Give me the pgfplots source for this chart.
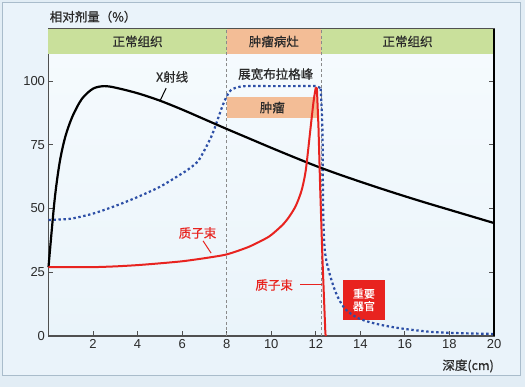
\documentclass[border=0pt]{standalone}
\usepackage{pgfplots}
\pgfplotsset{compat=1.18}
\usepackage{fontspec}
\setmainfont{Liberation Sans}
\newfontfamily\cjk[FakeBold=0.6]{Noto Sans CJK SC}
\definecolor{outerbg}{HTML}{E2EDF5}
\definecolor{innerbg}{HTML}{EAF3FA}
\definecolor{plottop}{HTML}{F6FBFE}
\definecolor{plotbot}{HTML}{EAF4FA}
\definecolor{bordercol}{HTML}{A9BCCB}
\definecolor{bandgreen}{HTML}{C9E09B}
\definecolor{bandorange}{HTML}{F3BD96}
\definecolor{redc}{HTML}{E8231F}
\definecolor{bluec}{HTML}{2D4FA6}
\definecolor{axisgray}{HTML}{505050}
\definecolor{textgray}{HTML}{2A2A2A}
\definecolor{dashgray}{HTML}{8A8A8A}
\begin{document}
\begin{tikzpicture}
\useasboundingbox (-48.5pt,-51pt) rectangle (476.5pt,336pt);
\fill[outerbg] (-48.5pt,-51pt) rectangle (476.5pt,336pt);
\fill[innerbg,draw=bordercol,line width=1pt] (-45.5pt,-40pt) rectangle (471.5pt,333pt);
\begin{axis}[
  at={(0,0)}, anchor=south west, scale only axis,
  width=445.5pt, height=307pt,
  xmin=0, xmax=20, ymin=0, ymax=120.4,
  axis background/.style={top color=plottop, bottom color=plotbot},
  xtick={2,4,...,20}, ytick={0,25,50,75,100},
  tick align=inside, major tick length=5pt,
  tick style={axisgray, line width=1pt},
  axis line style={axisgray, line width=1.6pt},
  ticklabel style={font=\fontsize{13}{13}\selectfont, text=textgray},
  /pgf/number format/assume math mode=true,
  clip=false,
]
% header bands
\fill[bandgreen] (axis cs:0,110.6) rectangle (axis cs:8,120.4);
\fill[bandorange] (axis cs:8,110.6) rectangle (axis cs:12.25,120.4);
\fill[bandgreen] (axis cs:12.25,110.6) rectangle (axis cs:20,120.4);
\node[font=\cjk\fontsize{12.5}{13}\selectfont, text=textgray] at (axis cs:4,115.5) {正常组织};
\node[font=\cjk\fontsize{12.5}{13}\selectfont, text=textgray] at (axis cs:10.12,115.5) {肿瘤病灶};
\node[font=\cjk\fontsize{12.5}{13}\selectfont, text=textgray] at (axis cs:16.12,115.5) {正常组织};
% dashed lines
\draw[dashgray, line width=0.8pt, dash pattern=on 3pt off 2.5pt] (axis cs:8,0) -- (axis cs:8,120.4);
\draw[dashgray, line width=0.8pt, dash pattern=on 3pt off 2.5pt] (axis cs:12.25,0) -- (axis cs:12.25,120.4);
% tumour box
\fill[bandorange] (axis cs:8,85.5) rectangle (axis cs:12.05,93.7);
\node[font=\cjk\fontsize{12.5}{13}\selectfont, text=textgray] at (axis cs:10.05,89.6) {肿瘤};
% organ box
\fill[redc] (axis cs:13.22,6.3) rectangle (axis cs:15.1,22);
\node[font=\cjk\fontsize{11}{12.5}\selectfont, text=white, align=center] at (axis cs:14.16,14.15) {重要\\器官};
% labels
\node[font=\cjk\fontsize{12.5}{13}\selectfont, text=textgray] at (axis cs:10.2,102.7) {展宽布拉格峰};
\node[font=\cjk\fontsize{12.5}{13}\selectfont, text=textgray] at (axis cs:5.55,101.6) {X射线};
\draw[black, line width=1pt] (axis cs:5.28,97.2) -- (axis cs:5.01,92.3);
\node[font=\cjk\fontsize{12.5}{13}\selectfont, text=redc] at (axis cs:6.69,40.4) {质子束};
\draw[redc, line width=1pt] (axis cs:6.94,37.3) -- (axis cs:7.3,32.5);
\node[font=\cjk\fontsize{12.5}{13}\selectfont, text=redc] at (axis cs:10.13,20) {质子束};
\draw[redc, line width=1pt] (axis cs:11.3,20) -- (axis cs:12.28,20);
% axis labels
\node[font=\cjk\fontsize{12.5}{13}\selectfont, text=textgray, anchor=west] at (axis cs:-0.1,125.2) {相对剂量（\%）};
\node[font=\cjk\fontsize{12.5}{13}\selectfont, text=textgray, anchor=north east] at (axis cs:20.15,-7.8) {深度(cm)};
% blue SOBP
\addplot[bluec, line width=2.2pt, dash pattern=on 2.4pt off 2.6pt, smooth, tension=0.4] coordinates {
(0,45.5) (1,46) (2,48) (3,51) (4,54.5) (5,58.5) (5.86,63) (6.3,65.5) (6.75,69) (7.3,78) (7.6,85) (7.8,90) (8.0,94) (8.2,96.5) (8.5,97.6) (8.85,98) (10,98) (11,98) (12.0,98) (12.22,97)
};
\addplot[bluec, line width=2.2pt, dash pattern=on 2.4pt off 2.6pt, smooth, tension=0.5] coordinates {
(12.22,97) (12.3,80) (12.33,50) (12.4,34) (12.57,26) (12.9,17) (13.3,10.8) (13.9,7) (14.7,4.8) (15.8,3) (17.2,1.6) (18.5,1.1) (20,0.8)
};
% black X-ray
\addplot[black, line width=2.2pt, smooth, tension=0.5] coordinates {
(0,27) (0.27,53) (0.5,68) (0.75,78) (1.07,86) (1.5,93) (2,97) (2.5,98) (3,97.4) (4,95.2) (5,92.3) (6,88.8) (7,85) (8,81.2) (9,77.5) (10,73.8) (11,70.2) (12,66.7) (13,63.5) (14,60.5) (15,57.6) (16,54.8) (17,52.1) (18,49.5) (19,46.9) (20,44.3)
};
% red proton
\addplot[redc, line width=2pt, smooth, tension=0.4] coordinates {
(0,27) (1,27) (2,27) (3,27.3) (4,27.8) (5,28.5) (6,29.3) (7,30.5) (8,32) (9,35) (9.9,39) (10.5,43.5) (10.8,46.7) (11.1,51) (11.36,57) (11.55,65) (11.77,82) (11.9,92) (12.0,97.5)
};
\addplot[redc, line width=2pt] coordinates {
(12.0,97.5) (12.05,97) (12.12,82) (12.2,57) (12.3,30) (12.43,1) (12.45,0)
};
\draw[black, line width=1.4pt] (axis cs:20,0) -- (axis cs:20,120.4);
\end{axis}
\end{tikzpicture}
\end{document}
